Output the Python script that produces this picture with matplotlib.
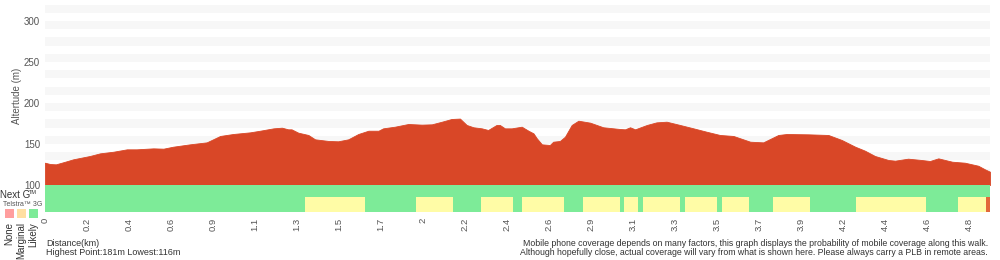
import matplotlib
matplotlib.use("Agg")
import matplotlib.pyplot as plt
import numpy as np

plt.rcParams['font.family'] = ['Liberation Sans', 'DejaVu Sans']

# ---- data ----
# position along walk (in tick-sample units) and altitude (m)
pos = [0.00, 0.12, 0.26, 0.48, 0.67, 1.07, 1.31, 1.63, 1.95, 2.18, 2.58, 2.82, 3.05,
       3.45, 3.85, 3.97, 4.17, 4.48, 4.88, 5.12, 5.44, 5.64, 5.79, 5.87, 6.03, 6.27,
       6.43, 6.75, 6.98, 7.22, 7.46, 7.70, 7.94, 8.05, 8.33, 8.65, 8.97, 9.21, 9.45,
       9.68, 9.88, 10.04, 10.20, 10.40, 10.55, 10.75, 10.83, 10.95, 11.11, 11.35,
       11.51, 11.63, 11.71, 11.83, 12.02, 12.10, 12.26, 12.38, 12.54, 12.70, 12.98,
       13.29, 13.69, 13.81, 13.93, 14.05, 14.33, 14.56, 14.80, 15.12, 15.44, 15.75,
       16.07, 16.39, 16.79, 17.10, 17.46, 17.66, 18.17, 18.65, 18.97, 19.29, 19.52,
       19.76, 20.08, 20.24, 20.55, 20.87, 21.07, 21.27, 21.60, 21.90, 22.22, 22.38,
       22.50]
altitude = [127.2, 125.6, 125.2, 128.4, 131.3, 135.4, 138.6, 140.6, 143.5, 143.5, 144.7,
            144.3, 146.7, 149.6, 152.0, 154.9, 159.8, 162.2, 164.2, 166.2, 169.1, 169.9,
            167.9, 167.9, 163.8, 161.0, 155.7, 153.7, 153.3, 155.7, 162.2, 166.2, 166.2,
            169.1, 171.1, 174.4, 173.6, 174.0, 177.2, 180.5, 181.0, 173.2, 170.4, 169.1,
            167.1, 173.2, 173.2, 169.1, 169.1, 171.1, 166.2, 163.0, 156.9, 149.6, 148.8,
            152.8, 153.7, 158.9, 173.2, 178.4, 176.0, 170.4, 168.3, 167.9, 170.4, 167.9,
            173.2, 176.4, 177.2, 173.2, 169.1, 165.0, 161.0, 159.8, 152.8, 152.0, 161.0,
            162.2, 161.8, 161.0, 154.9, 146.7, 141.9, 135.4, 130.5, 129.7, 132.1, 130.5,
            129.3, 132.5, 128.4, 127.2, 123.5, 119.1, 116.2]

# 3G coverage segments: (start, end, level)
seg_start = [6.19, 8.83, 10.38, 11.36, 12.81, 13.79, 14.24, 15.24, 16.12, 17.33, 19.31, 21.74, 22.40]
seg_end   = [7.62, 9.71, 11.14, 12.36, 13.69, 14.12, 15.12, 16.00, 16.76, 18.21, 20.98, 22.40, 22.50]
seg_level = ['Marginal'] * 12 + ['None']

tick_labels = ['0', '0.2', '0.4', '0.6', '0.9', '1.1', '1.3', '1.5', '1.7', '2', '2.2',
               '2.4', '2.6', '2.9', '3.1', '3.3', '3.5', '3.7', '3.9', '4.2', '4.4',
               '4.6', '4.8']
y_ticks = [100, 150, 200, 250, 300]
highest, lowest = 181, 116

# ---- style ----
RED = '#d94727'
GREEN = '#7deb98'
YELLOW = '#fffca6'
END_ORANGE = '#e2683a'
level_color = {'Likely': GREEN, 'Marginal': YELLOW, 'None': END_ORANGE}
GRAY_TXT = '#555555'
X_END = 22.5

fig = plt.figure(figsize=(10, 2.6), dpi=100)
W, H = 1000, 260
L, R = 45, 990
ax = fig.add_axes([L / W, 1 - 185 / H, (R - L) / W, 185 / H])
cov = fig.add_axes([L / W, 1 - 212 / H, (R - L) / W, 27 / H], sharex=ax)

ax.set_xlim(0, X_END)
ax.set_ylim(100, 325.6)
for lo in range(110, 320, 20):
    ax.axhspan(lo, lo + 10, color='#f7f7f7', lw=0, zorder=0)
ax.fill_between(pos, altitude, 100, color=RED, lw=0.6, edgecolor=RED, zorder=2)
ax.set_yticks(y_ticks)
ax.set_yticklabels([str(v) for v in y_ticks], fontsize=7, color=GRAY_TXT)
ax.tick_params(axis='y', length=0, pad=3.5)
ax.tick_params(axis='x', length=0, labelbottom=False)
for s in ax.spines.values():
    s.set_visible(False)
ax.set_ylabel('Altertude (m)', fontsize=7, color=GRAY_TXT, labelpad=4)
ax.yaxis.set_label_coords(-23 / (R - L), 0.48)
ax.set_facecolor('white')

# coverage axes
cov.set_ylim(0, 27)
cov.axhspan(15, 27, color=GREEN, lw=0)
cov.axhspan(0, 15, color=GREEN, lw=0)
for a, b, lev in zip(seg_start, seg_end, seg_level):
    cov.add_patch(plt.Rectangle((a, 0), b - a, 15, color=level_color[lev], lw=0))
cov.set_yticks([])
for s in cov.spines.values():
    s.set_visible(False)
cov.set_xticks(range(len(tick_labels)))
cov.set_xticklabels(tick_labels, rotation=90, fontsize=6.8, color=GRAY_TXT,
                    va='top', ha='center')
cov.tick_params(axis='x', length=0, pad=4)
cov.set_xlim(0, X_END)

# left legend texts
fig.text(0 / W, 1 - 197.5 / H, 'Next G', fontsize=7.0, color='#333333', va='baseline')
fig.text(29 / W, 1 - 194.5 / H, 'TM', fontsize=4.0, color='#333333', va='baseline')
fig.text(3 / W, 1 - 206 / H, 'Telstra™ 3G', fontsize=5, color='#555555', va='baseline')
for i, (c, lab) in enumerate(zip(['#ff9e9e', '#ffdfa2', GREEN], ['None', 'Marginal', 'Likely'])):
    x0 = 5 + 12 * i
    fig.patches.append(plt.Rectangle((x0 / W, 1 - 218 / H), 9 / W, 9 / H,
                                     transform=fig.transFigure, color=c, lw=0))
    fig.text((x0 + 4.5) / W, 1 - 222 / H, lab, rotation=90, fontsize=7,
             color='#333333', ha='center', va='top')

# bottom texts
fig.text(46 / W, 1 - 246 / H, 'Distance(km)', fontsize=6.5, color='#333333', va='baseline')
fig.text(46 / W, 1 - 255 / H, f'Highest Point:{highest}m Lowest:{lowest}m', fontsize=6.5,
         color='#333333', va='baseline')
fig.text(988 / W, 1 - 246 / H,
         'Mobile phone coverage depends on many factors, this graph displays the probability of mobile coverage along this walk.',
         fontsize=6.3, color='#333333', va='baseline', ha='right')
fig.text(988 / W, 1 - 255 / H,
         'Although hopefully close, actual coverage will vary from what is shown here. Please always carry a PLB in remote areas.',
         fontsize=6.3, color='#333333', va='baseline', ha='right')

fig.savefig('out.png', dpi=100, facecolor='white')
